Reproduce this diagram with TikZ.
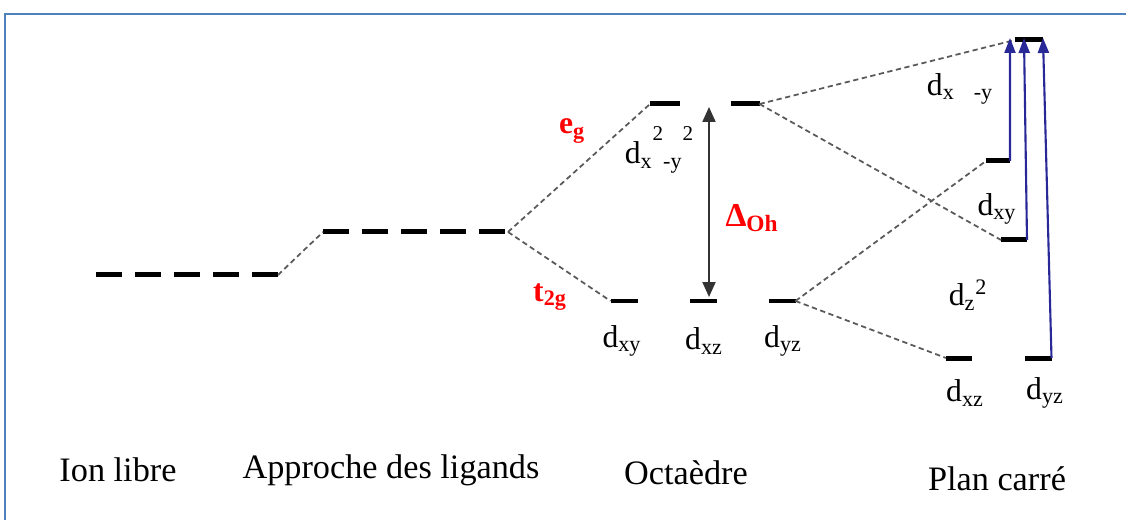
\documentclass[tikz,border=0pt]{standalone}
\usepackage{fontspec}
\setmainfont{Liberation Serif}
\usetikzlibrary{positioning,arrows.meta}

\definecolor{framebl}{RGB}{79,129,189}
\definecolor{arrowbl}{RGB}{40,40,150}

\newcommand{\hisup}[1]{\raisebox{0.72em}{\fontsize{12}{13}\selectfont #1}}

\tikzset{
  level/.style={fill=black, inner sep=0, outer sep=0, minimum height=0.1cm},
  dashlevel/.style={line width=0.1cm, dash pattern=on 0.52cm off 0.26cm},
  link/.style={draw=black!65, line width=1pt, dash pattern=on 3pt off 2pt},
  dlab/.style={inner sep=0, font=\fontsize{18}{20}\selectfont},
  redlab/.style={inner sep=0, text=red, font=\bfseries\fontsize{18}{20}\selectfont},
  steplab/.style={inner sep=0, font=\fontsize{19.5}{22}\selectfont},
  bluearrow/.style={draw=arrowbl, line width=1.2pt, -{Triangle[width=0.22cm, length=0.3cm]}}
}

\begin{document}
\begin{tikzpicture}[x=0.02cm, y=-0.02cm]
  \useasboundingbox (0,0) rectangle (1126,520);
  \draw[framebl, line width=1.2pt] (5,520) -- (5,14) -- (1126,14);

  % ion libre and approche des ligands
  \coordinate (ion-l) at (96,275);
  \coordinate (ion-r) at (278,275);
  \coordinate (app-l) at (323,232);
  \coordinate (app-r) at (508,232);
  \draw[dashlevel] (ion-l) -- (ion-r);
  \draw[dashlevel] (app-l) -- (app-r);
  \draw[link] (ion-r) -- (app-l);

  % octaedre
  \node[level, minimum width=0.6cm] (oct-eg1) at (665,104) {};
  \node[level, minimum width=0.58cm] (oct-eg2) at (745,104) {};
  \node[level, minimum width=0.54cm] (oct-t1) at (624,301) {};
  \node[level, minimum width=0.54cm] (oct-t2) at (703,301) {};
  \node[level, minimum width=0.54cm] (oct-t3) at (782,301) {};

  \draw[link] (app-r) -- (oct-eg1.west);
  \draw[link] (app-r) -- (oct-t1.west);

  \node[redlab] (eg) at (572,131) {e\textsubscript{g}};
  \node[redlab] (t2g) at (550,297) {t\textsubscript{2g}};
  \node[redlab, font=\bfseries\fontsize{19}{21}\selectfont] (delta) at (752,218) {Δ\textsubscript{Oh}};
  \node[dlab] (oct-dx2) at (659,150) {d\textsubscript{x}\hisup{2}\textsubscript{-y}\hisup{2}};
  \node[dlab] (oct-dxy) at (622,341) {d\textsubscript{xy}};
  \node[dlab] (oct-dxz) at (704,341) {d\textsubscript{xz}};
  \node[dlab] (oct-dyz) at (783,341) {d\textsubscript{yz}};

  \coordinate (gap-t) at (709,107);
  \coordinate (gap-b) at (709,297);
  \draw[black!80, line width=1.1pt, {Triangle[width=0.26cm, length=0.3cm]}-{Triangle[width=0.26cm, length=0.3cm]}] (gap-t) -- (gap-b);

  % plan carre
  \node[level, minimum width=0.56cm] (sq-a) at (1029,40) {};
  \node[level, minimum width=0.48cm] (sq-b) at (998,161) {};
  \node[level, minimum width=0.52cm] (sq-c) at (1014,240) {};
  \node[level, minimum width=0.52cm] (sq-d) at (959,358) {};
  \node[level, minimum width=0.54cm] (sq-e) at (1038,358) {};

  \draw[link] (oct-eg2.east) -- (sq-a.west);
  \draw[link] (oct-eg2.east) -- (sq-c.west);
  \draw[link] (oct-t3.east) -- (sq-b.west);
  \draw[link] (oct-t3.east) -- (sq-d.west);

  \node[dlab] (sq-dx2) at (960,89) {d\textsubscript{x\hspace{0.9em}-y}};
  \node[dlab] (sq-dxy) at (997,209) {d\textsubscript{xy}};
  \node[dlab] (sq-dz2) at (968,295) {d\textsubscript{z}\textsuperscript{2}};
  \node[dlab] (sq-dxz) at (965,393) {d\textsubscript{xz}};
  \node[dlab] (sq-dyz) at (1045,393) {d\textsubscript{yz}};

  \coordinate (top-b) at (1010,38);
  \coordinate (top-c) at (1024,38);
  \coordinate (top-e) at (1043,38);
  \draw[bluearrow] (sq-b.east) -- (top-b);
  \draw[bluearrow] (sq-c.east) -- (top-c);
  \draw[bluearrow] (sq-e.east) -- (top-e);

  % titles
  \node[steplab] (lab-ion) at (118,470) {Ion libre};
  \node[steplab] (lab-app) at (391,470) {Approche des ligands};
  \node[steplab] (lab-oct) at (686,473) {Octaèdre};
  \node[steplab] (lab-sq) at (997,479) {Plan carré};
\end{tikzpicture}
\end{document}
